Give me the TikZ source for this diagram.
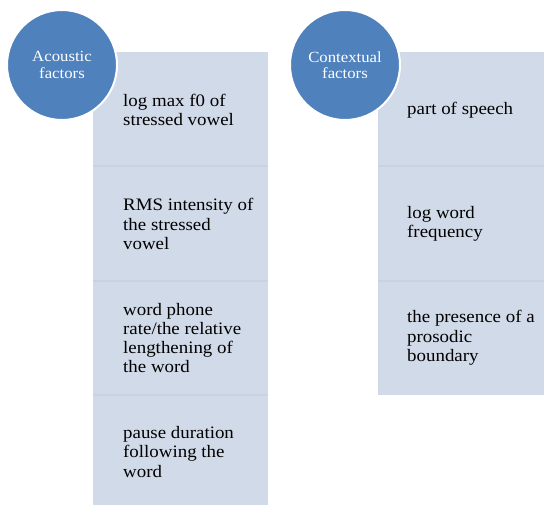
\documentclass[tikz,border=0pt]{standalone}
\usepackage{fontspec}
\setmainfont{Liberation Serif}[FakeStretch=1.08]
\definecolor{circblue}{HTML}{4F81BD}
\definecolor{boxfill}{HTML}{D1DAE8}
\definecolor{sepline}{HTML}{C8D2E2}
\begin{document}
\begin{tikzpicture}[x=1pt,y=-1pt,
  itemtext/.style={anchor=west, align=left, font=\fontsize{17.5}{19.3}\selectfont, text=black, inner sep=0pt},
  cat/.style={circle, fill=circblue, draw=white, line width=2pt, minimum size=110pt, inner sep=0pt, align=center, text=white, font=\fontsize{15.5}{16.5}\selectfont}]
\useasboundingbox (0,0) rectangle (544,505);
\begin{scope}
\clip (0,0) rectangle (544,505);
% left column segments
\path[fill=boxfill] (93,52) rectangle (268,166);
\path[fill=boxfill] (93,166) rectangle (268,281);
\path[fill=boxfill] (93,281) rectangle (268,395);
\path[fill=boxfill] (93,395) rectangle (268,510);
\draw[sepline, line width=1.5pt] (93,166) -- (268,166);
\draw[sepline, line width=1.5pt] (93,281) -- (268,281);
\draw[sepline, line width=1.5pt] (93,395) -- (268,395);
% right column segments
\path[fill=boxfill] (378,52) rectangle (550,166);
\path[fill=boxfill] (378,166) rectangle (550,281);
\path[fill=boxfill] (378,281) rectangle (550,395);
\draw[sepline, line width=1.5pt] (378,166) -- (550,166);
\draw[sepline, line width=1.5pt] (378,281) -- (550,281);
\end{scope}
% texts
\node[itemtext] (l1) at (123,110) {log max f0 of\\stressed vowel};
\node[itemtext] (l2) at (123,224) {RMS intensity of\\the stressed\\vowel};
\node[itemtext] (l3) at (123,338) {word phone\\rate/the relative\\lengthening of\\the word};
\node[itemtext] (l4) at (123,452) {pause duration\\following the\\word};
\node[itemtext] (r1) at (407,110) {part of speech};
\node[itemtext] (r2) at (407,224) {log word\\frequency};
\node[itemtext] (r3) at (407,338) {the presence of a\\prosodic\\boundary};
% circles
\node[cat] (ac) at (62,65) {Acoustic\\factors};
\node[cat] (cf) at (345,65) {Contextual\\factors};
\end{tikzpicture}
\end{document}
